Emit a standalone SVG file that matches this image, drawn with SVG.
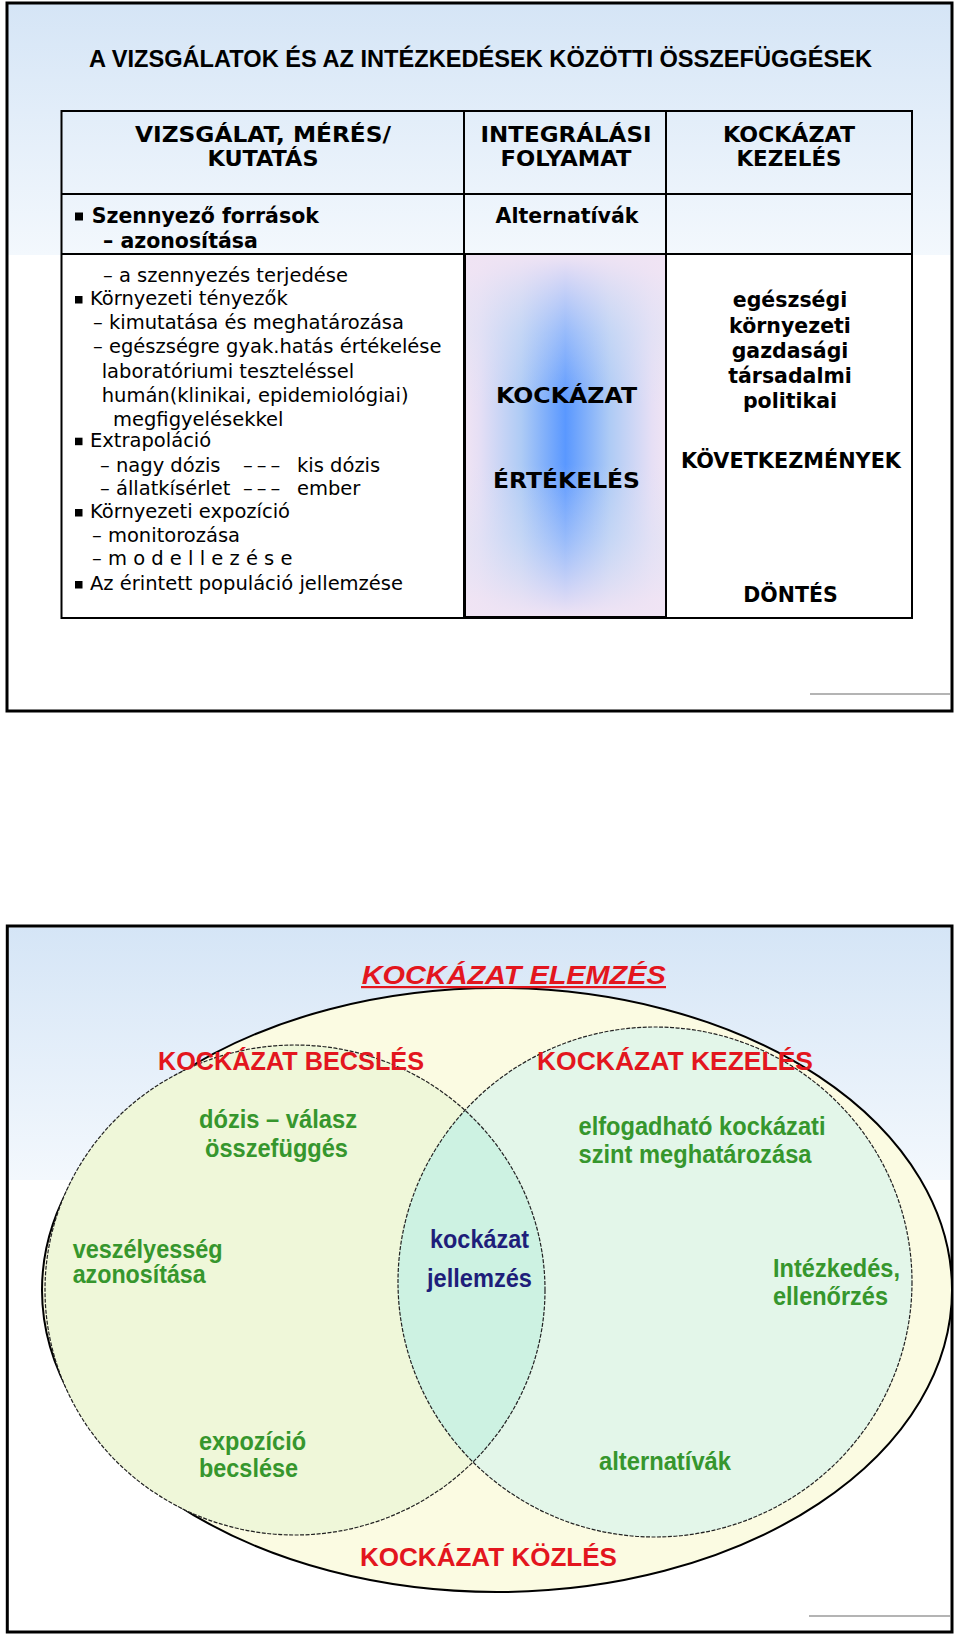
<svg xmlns="http://www.w3.org/2000/svg" width="960" height="1635" viewBox="0 0 960 1635">
<defs>
  <linearGradient id="bg" x1="0" y1="0" x2="0" y2="1">
    <stop offset="0" stop-color="#d5e5f6"/>
    <stop offset="1" stop-color="#f3f8fd"/>
  </linearGradient>
  <linearGradient id="midH" x1="0" y1="0" x2="1" y2="0">
    <stop offset="0" stop-color="#f0e4f4"/>
    <stop offset="0.07" stop-color="#e6dff5"/>
    <stop offset="0.28" stop-color="#aecbf5"/>
    <stop offset="0.5" stop-color="#5a98ff"/>
    <stop offset="0.72" stop-color="#aecbf5"/>
    <stop offset="0.93" stop-color="#e6dff5"/>
    <stop offset="1" stop-color="#f0e4f4"/>
  </linearGradient>
  <linearGradient id="midV" x1="0" y1="0" x2="0" y2="1">
    <stop offset="0" stop-color="#f0e4f4" stop-opacity="1"/>
    <stop offset="0.05" stop-color="#f0e4f4" stop-opacity="0.85"/>
    <stop offset="0.22" stop-color="#dfe3f5" stop-opacity="0.45"/>
    <stop offset="0.42" stop-color="#dfe3f5" stop-opacity="0"/>
    <stop offset="0.58" stop-color="#dfe3f5" stop-opacity="0"/>
    <stop offset="0.78" stop-color="#dfe3f5" stop-opacity="0.45"/>
    <stop offset="0.95" stop-color="#f0e4f4" stop-opacity="0.85"/>
    <stop offset="1" stop-color="#f0e4f4" stop-opacity="1"/>
  </linearGradient>
  <clipPath id="clipR">
    <ellipse cx="655" cy="1282" rx="257" ry="255"/>
  </clipPath>
</defs>
<style>
  .t{font-family:"DejaVu Sans",Verdana,sans-serif;font-size:19.5px;fill:#000}
  .tb{font-family:"DejaVu Sans",Verdana,sans-serif;font-size:20.5px;font-weight:bold;fill:#000}
  .hd{font-family:"DejaVu Sans",Verdana,sans-serif;font-size:22px;font-weight:bold;fill:#000;text-anchor:middle}
  .mid{text-anchor:middle}
  .ar{font-family:"Liberation Sans",Arial,sans-serif}
  .red{fill:#e3161e;font-size:25.5px;font-weight:bold}
  .grn{fill:#36962d;font-size:25.5px;font-weight:bold}
  .nav{fill:#1e1e7a;font-size:25.5px;font-weight:bold}
  .frame{fill:none;stroke:#000;stroke-width:3}
  .ln{stroke:#000;stroke-width:2;fill:none}
  .gray{stroke:#b4b4b4;stroke-width:2}
  .venn{fill:none;stroke:#222;stroke-width:1.2;stroke-dasharray:4 1.5}
</style>

<!-- ========== SLIDE 1 ========== -->
<g id="slide1">
  <rect x="7" y="3" width="945" height="708" fill="#fff"/>
  <rect x="8" y="4" width="943" height="251" fill="url(#bg)"/>
  <line class="gray" x1="810" y1="694" x2="950" y2="694"/>
  <rect class="frame" x="7" y="3" width="945" height="708"/>
  <text id="title1" class="ar" x="480.5" y="66.5" font-size="23" font-weight="bold" text-anchor="middle" textLength="783" lengthAdjust="spacingAndGlyphs">A VIZSGÁLATOK ÉS AZ INTÉZKEDÉSEK KÖZÖTTI ÖSSZEFÜGGÉSEK</text>
</g>

<g id="table">
  <rect x="61.5" y="254" width="850.5" height="364" fill="#fff"/>
  <rect x="465" y="254" width="201" height="363" fill="url(#midH)"/>
  <rect x="465" y="254" width="201" height="363" fill="url(#midV)"/>
  <rect class="ln" x="61.5" y="111" width="850.5" height="507" stroke-width="2.5"/>
  <line class="ln" x1="61.5" y1="194" x2="912" y2="194"/>
  <line class="ln" x1="61.5" y1="254" x2="912" y2="254"/>
  <line class="ln" x1="464" y1="111" x2="464" y2="618"/>
  <line class="ln" x1="666" y1="111" x2="666" y2="618"/>
  <rect class="ln" x="465" y="254" width="201" height="363" stroke-width="3.5"/>
</g>

<g id="head-col1">
  <text class="hd" x="263" y="141.7" textLength="256" lengthAdjust="spacingAndGlyphs">VIZSGÁLAT, MÉRÉS/</text>
  <text class="hd" x="263" y="165.7" textLength="111" lengthAdjust="spacingAndGlyphs">KUTATÁS</text>
</g>
<g id="head-col2">
  <text class="hd" x="566" y="141.7" textLength="171" lengthAdjust="spacingAndGlyphs">INTEGRÁLÁSI</text>
  <text class="hd" x="566" y="165.7" textLength="131" lengthAdjust="spacingAndGlyphs">FOLYAMAT</text>
</g>
<g id="head-col3">
  <text class="hd" x="789" y="141.7" textLength="132" lengthAdjust="spacingAndGlyphs">KOCKÁZAT</text>
  <text class="hd" x="789" y="165.7" textLength="105" lengthAdjust="spacingAndGlyphs">KEZELÉS</text>
</g>

<g id="cell-sources">
  <rect x="75" y="212.5" width="8" height="8"/>
  <text class="tb" x="91.7" y="222.7">Szennyező források</text>
  <text class="tb" x="103" y="248">– azonosítása</text>
</g>

<g id="cell-investigation">
  <text class="t" x="103" y="281.7">– a szennyezés terjedése</text>
  <rect x="75" y="296" width="7.5" height="7.5"/>
  <text class="t" x="90" y="305">Környezeti tényezők</text>
  <text class="t" x="93" y="329.3">– kimutatása és meghatározása</text>
  <text class="t" x="93" y="353.3">– egészségre gyak.hatás értékelése</text>
  <text class="t" x="101.7" y="377.7">laboratóriumi teszteléssel</text>
  <text class="t" x="101.7" y="401.7">humán(klinikai, epidemiológiai)</text>
  <text class="t" x="113" y="425.7">megfigyelésekkel</text>
  <rect x="75" y="437.7" width="7.5" height="7.5"/>
  <text class="t" x="90" y="446.7">Extrapoláció</text>
  <text class="t" x="100" y="471.7">– nagy dózis</text>
  <text class="t" x="243" y="471.7" letter-spacing="4">–––</text>
  <text class="t" x="297" y="471.7">kis dózis</text>
  <text class="t" x="100" y="495">– állatkísérlet</text>
  <text class="t" x="243" y="495" letter-spacing="4">–––</text>
  <text class="t" x="297" y="495">ember</text>
  <rect x="75" y="509" width="7.5" height="7.5"/>
  <text class="t" x="90" y="518">Környezeti expozíció</text>
  <text class="t" x="92" y="541.7">– monitorozása</text>
  <text class="t" x="92" y="565">– m o d e l l e z é s e</text>
  <rect x="75" y="581" width="7.5" height="7.5"/>
  <text class="t" x="90" y="590">Az érintett populáció jellemzése</text>
</g>

<g id="cell-alternatives">
  <text class="tb mid" x="567" y="222.7">Alternatívák</text>
</g>

<g id="cell-risk-evaluation">
  <text class="tb mid" x="566.5" y="403" font-size="23" textLength="141" lengthAdjust="spacingAndGlyphs">KOCKÁZAT</text>
  <text class="tb mid" x="566.5" y="488" font-size="23" textLength="147" lengthAdjust="spacingAndGlyphs">ÉRTÉKELÉS</text>
</g>

<g id="cell-consequences">
  <text class="tb mid" x="790" y="306.7">egészségi</text>
  <text class="tb mid" x="790" y="332.7">környezeti</text>
  <text class="tb mid" x="790" y="358">gazdasági</text>
  <text class="tb mid" x="790" y="383">társadalmi</text>
  <text class="tb mid" x="790" y="408">politikai</text>
  <text class="tb mid" x="791" y="468" textLength="220" lengthAdjust="spacingAndGlyphs">KÖVETKEZMÉNYEK</text>
  <text class="tb mid" x="790.5" y="601.7">DÖNTÉS</text>
</g>

<!-- ========== SLIDE 2 ========== -->
<g id="slide2">
  <rect x="7.3" y="926" width="944.7" height="706" fill="#fff"/>
  <rect x="8.5" y="927.5" width="942" height="252.5" fill="url(#bg)"/>
  <line class="gray" x1="809" y1="1616" x2="950" y2="1616"/>
  <rect class="frame" x="7.3" y="926" width="944.7" height="706"/>
</g>

<g id="risk-analysis">
  <ellipse cx="497" cy="1290" rx="455" ry="302" fill="#fbfbe2" stroke="#000" stroke-width="2"/>
  <text class="ar red" x="361.7" y="984" font-size="29" font-style="italic" textLength="304" lengthAdjust="spacingAndGlyphs">KOCKÁZAT ELEMZÉS</text>
  <rect x="361" y="986" width="305" height="2.2" fill="#e3161e"/>
</g>

<g id="risk-assessment">
  <ellipse cx="295" cy="1290" rx="250" ry="245" fill="#eff7d9"/>
</g>
<g id="risk-management">
  <ellipse cx="655" cy="1282" rx="257" ry="255" fill="#e3f6e9"/>
</g>
<g id="risk-characterization">
  <ellipse cx="295" cy="1290" rx="250" ry="245" fill="#cdf2e2" clip-path="url(#clipR)"/>
</g>
<g id="venn-outlines">
  <ellipse class="venn" cx="295" cy="1290" rx="250" ry="245"/>
  <ellipse class="venn" cx="655" cy="1282" rx="257" ry="255"/>
</g>

<g id="labels-assessment">
  <text class="ar red" x="158" y="1070" textLength="266" lengthAdjust="spacingAndGlyphs">KOCKÁZAT BECSLÉS</text>
  <text class="ar grn" x="199" y="1128" textLength="158" lengthAdjust="spacingAndGlyphs">dózis – válasz</text>
  <text class="ar grn" x="205" y="1157" textLength="143" lengthAdjust="spacingAndGlyphs">összefüggés</text>
  <text class="ar grn" x="72.7" y="1258.3" textLength="150" lengthAdjust="spacingAndGlyphs">veszélyesség</text>
  <text class="ar grn" x="72.7" y="1283.3" textLength="133" lengthAdjust="spacingAndGlyphs">azonosítása</text>
  <text class="ar grn" x="199" y="1450" textLength="107" lengthAdjust="spacingAndGlyphs">expozíció</text>
  <text class="ar grn" x="199" y="1477" textLength="99" lengthAdjust="spacingAndGlyphs">becslése</text>
</g>

<g id="labels-characterization">
  <text class="ar nav" x="430" y="1248" textLength="99" lengthAdjust="spacingAndGlyphs">kockázat</text>
  <text class="ar nav" x="427" y="1287" textLength="105" lengthAdjust="spacingAndGlyphs">jellemzés</text>
</g>

<g id="labels-management">
  <text class="ar red" x="537" y="1070" textLength="276" lengthAdjust="spacingAndGlyphs">KOCKÁZAT KEZELÉS</text>
  <text class="ar grn" x="578.5" y="1135" textLength="247" lengthAdjust="spacingAndGlyphs">elfogadható kockázati</text>
  <text class="ar grn" x="578.5" y="1163.3" textLength="233" lengthAdjust="spacingAndGlyphs">szint meghatározása</text>
  <text class="ar grn" x="773" y="1276.7" textLength="127" lengthAdjust="spacingAndGlyphs">Intézkedés,</text>
  <text class="ar grn" x="773" y="1305" textLength="115" lengthAdjust="spacingAndGlyphs">ellenőrzés</text>
  <text class="ar grn" x="599" y="1470" textLength="132" lengthAdjust="spacingAndGlyphs">alternatívák</text>
</g>

<g id="risk-communication">
  <text class="ar red" x="360" y="1565.7" textLength="257" lengthAdjust="spacingAndGlyphs">KOCKÁZAT KÖZLÉS</text>
</g>
</svg>
